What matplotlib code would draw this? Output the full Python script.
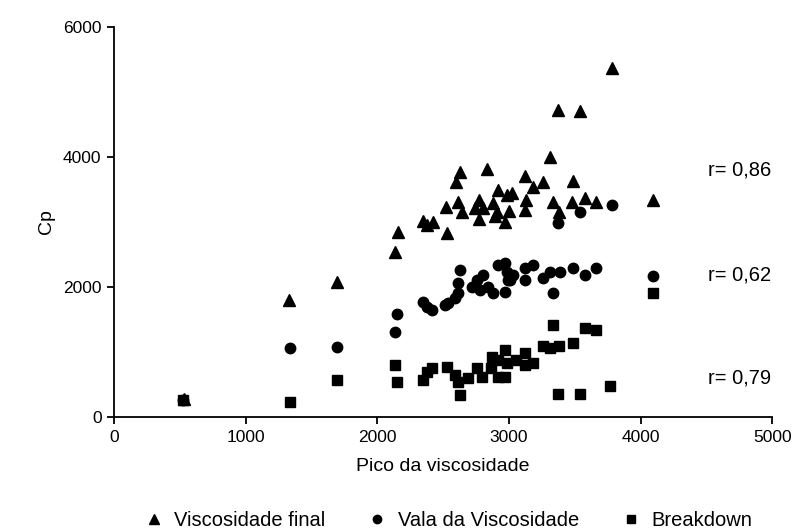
import matplotlib.pyplot as plt
from matplotlib.lines import Line2D

plt.rcParams['font.family'] = ['Liberation Sans', 'DejaVu Sans']

# Viscosidade final (triangulos)
vf_x = [530, 1330, 1690, 2135, 2160, 2350, 2380, 2420, 2530, 2520, 2610, 2640, 2630,
        2600, 2830, 2770, 2740, 2800, 2775, 2880, 2910, 2895, 2920, 2985, 3025, 3000,
        2970, 3780, 3375, 3540, 3315, 3125, 3260, 3490, 3185, 3130, 3335, 3480, 3580,
        3665, 3125, 3380, 4095]
vf_y = [280, 1800, 2080, 2540, 2850, 3020, 2960, 3000, 2830, 3230, 3310, 3150, 3770,
        3620, 3820, 3340, 3220, 3220, 3050, 3290, 3150, 3090, 3490, 3420, 3450, 3170,
        3000, 5370, 4720, 4710, 4000, 3710, 3620, 3630, 3540, 3340, 3310, 3310, 3370,
        3310, 3180, 3150, 3340]

# Vala da Viscosidade (circulos)
vv_x = [520, 1340, 1690, 2135, 2150, 2350, 2380, 2415, 2515, 2540, 2590, 2610, 2630,
        2615, 2720, 2755, 2780, 2800, 2840, 2880, 2920, 2970, 2985, 2970, 2995, 3030,
        3010, 3125, 3185, 3125, 3260, 3315, 3390, 3335, 3490, 3580, 3665, 4095, 3780,
        3540, 3375]
vv_y = [260, 1060, 1080, 1310, 1580, 1770, 1700, 1650, 1720, 1750, 1830, 1910, 2260,
        2060, 2000, 2110, 1950, 2180, 2000, 1910, 2340, 2370, 2230, 1920, 2110, 2180,
        2110, 2290, 2340, 2110, 2140, 2230, 2230, 1910, 2300, 2180, 2290, 2170, 3260,
        3150, 2990]

# Breakdown (quadrados)
bd_x = [520, 1340, 1690, 2135, 2150, 2350, 2380, 2415, 2530, 2590, 2615, 2630, 2690,
        2755, 2795, 2870, 2860, 2920, 2970, 2985, 2970, 3050, 3125, 3125, 3185, 3260,
        3315, 3380, 3335, 3490, 3580, 3665, 3375, 3540, 3770, 4095, 2920]
bd_y = [260, 230, 570, 800, 540, 570, 690, 750, 770, 650, 540, 340, 600, 750, 620, 920,
        750, 620, 1030, 830, 620, 880, 980, 800, 830, 1100, 1060, 1100, 1420, 1140, 1370,
        1340, 350, 350, 480, 1910, 870]

r_labels = ['r= 0,86', 'r= 0,62', 'r= 0,79']
r_y = [3800, 2185, 600]

fig = plt.figure(figsize=(7.98, 5.3), dpi=100)
ax = fig.add_axes([0.143, 0.2132, 0.8246, 0.7358])

ax.plot(vf_x, vf_y, '^', color='black', ms=8.5, ls='none', clip_on=False)
ax.plot(vv_x, vv_y, 'o', color='black', ms=7.5, ls='none', clip_on=False)
ax.plot(bd_x, bd_y, 's', color='black', ms=7.3, ls='none', clip_on=False)

for lab, yv in zip(r_labels, r_y):
    ax.text(4515, yv, lab, fontsize=14.5, va='center', ha='left')

ax.set_xlim(0, 5000)
ax.set_ylim(0, 6000)
ax.set_xticks([0, 1000, 2000, 3000, 4000, 5000])
ax.set_yticks([0, 2000, 4000, 6000])
ax.spines['top'].set_visible(False)
ax.spines['right'].set_visible(False)
for s in ['left', 'bottom']:
    ax.spines[s].set_linewidth(1.3)
ax.tick_params(direction='out', length=5, width=1.3, labelsize=12.5, pad=4)
ax.set_xlabel('Pico da viscosidade', fontsize=14, labelpad=10)
ax.set_ylabel('Cp', fontsize=14, labelpad=6)

handles = [Line2D([], [], marker='^', color='black', ls='none', ms=6.5),
           Line2D([], [], marker='o', color='black', ls='none', ms=6),
           Line2D([], [], marker='s', color='black', ls='none', ms=6)]
fig.legend(handles, ['Viscosidade final', 'Vala da Viscosidade', 'Breakdown'],
           loc='center', bbox_to_anchor=(0.56, 0.018), ncol=3, frameon=False,
           fontsize=14.5, columnspacing=2.0, handletextpad=0.4, handlelength=1.2)

fig.savefig('out.png', dpi=100)
